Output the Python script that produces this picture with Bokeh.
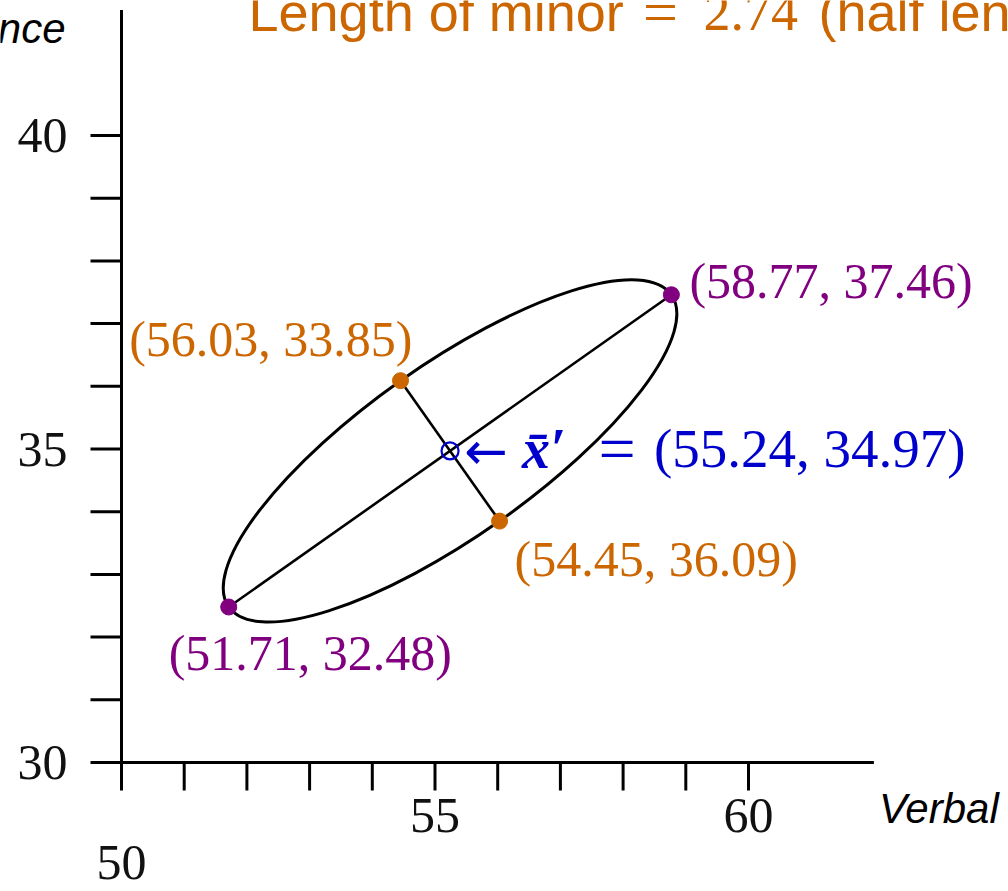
import math
from bokeh.plotting import figure
from bokeh.models import Range1d
from bokeh.core.properties import value
from bokeh.embed import file_html
from bokeh.resources import INLINE

# ---------------- data ----------------
major_x = [51.71, 58.77]
major_y = [32.48, 37.46]
major_labels = ["(51.71, 32.48)", "(58.77, 37.46)"]

minor_x = [54.45, 56.03]
minor_y = [36.09, 33.85]
minor_labels = ["(56.03, 33.85)", "(54.45, 36.09)"]   # as printed in the figure

center_x = [55.24]
center_y = [34.97]
center_label = ["(55.24, 34.97)"]

minor_length = "2.74"

x_ticks = [50, 51, 52, 53, 54, 55, 56, 57, 58, 59, 60]
x_tick_labels = {50: "50", 55: "55", 60: "60"}
y_ticks = [30, 31, 32, 33, 34, 35, 36, 37, 38, 39, 40]
y_tick_labels = {30: "30", 35: "35", 40: "40"}
x_axis_end = 62
y_axis_end = 42

PURPLE = "#800080"
ORANGE = "#CC6600"
BLUE = "#0000CC"
SERIF = value("Liberation Serif")
SANS = value("Liberation Sans")

# ---------------- geometry of the canvas ----------------
W, H = 1008, 891
S = 62.7                      # pixels per data unit (both axes)
X0 = 50 - 121 / S
Y1 = 30 + 762 / S
X1 = X0 + W / S
Y0 = Y1 - H / S

def px(xp):
    return X0 + xp / S

def py(yp):
    return Y1 - yp / S

p = figure(width=W, height=H, output_backend="svg", toolbar_location=None,
           x_range=Range1d(X0, X1), y_range=Range1d(Y0, Y1),
           x_axis_type=None, y_axis_type=None, min_border=0,
           background_fill_color="white", border_fill_color="white")
p.outline_line_color = None
p.grid.visible = False

# ---------------- axes (drawn in data space) ----------------
AX_W = 3
tick_len_x = 28 / S
tick_len_y = 31 / S
p.segment(x0=[50], y0=[30], x1=[50], y1=[y_axis_end], line_color="black", line_width=AX_W)
p.segment(x0=[50], y0=[30], x1=[x_axis_end], y1=[30], line_color="black", line_width=AX_W)
p.segment(x0=x_ticks, y0=[30] * len(x_ticks), x1=x_ticks, y1=[30 - tick_len_x] * len(x_ticks),
          line_color="black", line_width=AX_W)
p.segment(x0=[50] * len(y_ticks), y0=y_ticks, x1=[50 - tick_len_y] * len(y_ticks), y1=y_ticks,
          line_color="black", line_width=AX_W)

ytl = sorted(y_tick_labels)
p.text(x=[50] * len(ytl), y=ytl, text=[y_tick_labels[t] for t in ytl],
       text_align="right", text_baseline="middle", x_offset=-54,
       text_font=SERIF, text_font_size="50px", text_color="#111111")

xtl_hi = [t for t in sorted(x_tick_labels) if t != 50]
p.text(x=xtl_hi, y=[30] * len(xtl_hi), text=[x_tick_labels[t] for t in xtl_hi],
       text_align="center", text_baseline="middle", y_offset=53,
       text_font=SERIF, text_font_size="50px", text_color="#111111")
p.text(x=[50], y=[30], text=[x_tick_labels[50]],
       text_align="center", text_baseline="middle", y_offset=100,
       text_font=SERIF, text_font_size="50px", text_color="#111111")

# axis labels
p.text(x=[x_axis_end], y=[30], text=["Verbal"], text_align="left", text_baseline="middle",
       x_offset=5, y_offset=46, text_font=SANS, text_font_style="italic",
       text_font_size="42px", text_color="black")
p.text(x=[50], y=[y_axis_end], text=["Science"], text_align="right", text_baseline="middle",
       x_offset=-56, y_offset=18, text_font=SANS, text_font_style="italic",
       text_font_size="42px", text_color="black")

# ---------------- ellipse and axes of the ellipse ----------------
dx = major_x[1] - major_x[0]
dy = major_y[1] - major_y[0]
major_len = math.hypot(dx, dy)
minor_len = math.hypot(minor_x[1] - minor_x[0], minor_y[1] - minor_y[0])
angle = math.atan2(dy, dx)
p.ellipse(x=center_x, y=center_y, width=major_len, height=minor_len, angle=angle,
          fill_color=None, line_color="black", line_width=3)
p.line(major_x, major_y, line_color="black", line_width=2.6)
p.line(minor_x, minor_y, line_color="black", line_width=2.6)

p.scatter(major_x, major_y, size=16, fill_color=PURPLE, line_color=PURPLE)
p.scatter(minor_x, minor_y, size=16, fill_color=ORANGE, line_color=ORANGE)
p.scatter(center_x, center_y, size=17, fill_color=None, line_color=BLUE, line_width=2.2)

# point labels
p.text(x=[major_x[1]], y=[major_y[1]], text=[major_labels[1]], text_align="left",
       text_baseline="middle", x_offset=18, y_offset=-14,
       text_font=SERIF, text_font_size="50px", text_color=PURPLE)
p.text(x=[major_x[0]], y=[major_y[0]], text=[major_labels[0]], text_align="left",
       text_baseline="middle", x_offset=-60, y_offset=46,
       text_font=SERIF, text_font_size="50px", text_color=PURPLE)
p.text(x=[minor_x[0]], y=[minor_y[0]], text=[minor_labels[0]], text_align="right",
       text_baseline="middle", x_offset=12, y_offset=-42,
       text_font=SERIF, text_font_size="50px", text_color=ORANGE)
p.text(x=[minor_x[1]], y=[minor_y[1]], text=[minor_labels[1]], text_align="left",
       text_baseline="middle", x_offset=15, y_offset=38,
       text_font=SERIF, text_font_size="50px", text_color=ORANGE)

# centre label: arrow, bold x-bar prime, equals sign and the coordinates
p.text(x=center_x, y=center_y, text=["\u2190"], text_align="left",
       text_baseline="middle", x_offset=14, y_offset=0,
       text_font=value("DejaVu Sans"), text_font_size="52px", text_color=BLUE)
p.text(x=center_x, y=center_y, text=["x\u0304\u2032"], text_align="left",
       text_baseline="middle", x_offset=72, y_offset=-2,
       text_font=SERIF, text_font_style="bold italic", text_font_size="56px", text_color=BLUE)
p.text(x=center_x, y=center_y, text=["="], text_align="center",
       text_baseline="middle", x_offset=167, y_offset=-2,
       text_font=SERIF, text_font_size="66px", text_color=BLUE)
p.text(x=center_x, y=center_y, text=center_label, text_align="left",
       text_baseline="middle", x_offset=204, y_offset=-2,
       text_font=SERIF, text_font_size="55px", text_color=BLUE)

# ---------------- title (cut at the top edge) ----------------
TY = py(11)
p.text(x=[px(248)], y=[TY], text=["Length of minor"], text_align="left",
       text_baseline="middle", text_font=SANS, text_font_size="54px", text_color=ORANGE)
p.text(x=[px(660)], y=[TY], text=["="], text_align="center",
       text_baseline="middle", text_font=SERIF, text_font_size="62px", text_color=ORANGE)
p.text(x=[px(703)], y=[TY], text=[minor_length], text_align="left",
       text_baseline="middle", text_font=SERIF, text_font_size="54px", text_color=ORANGE)
p.text(x=[px(818)], y=[TY], text=["(half length = 1.37)"], text_align="left",
       text_baseline="middle", text_font=SANS, text_font_size="54px", text_color=ORANGE)

open("out.html", "w").write(file_html(p, INLINE))
